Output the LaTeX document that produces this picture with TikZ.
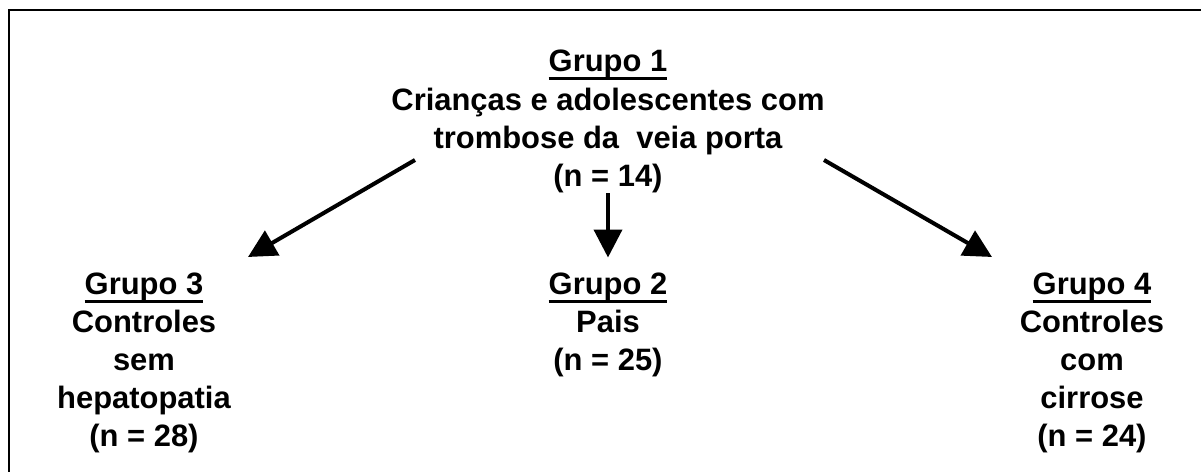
\documentclass[tikz,border=0pt]{standalone}
\usepackage{fontspec}
\setmainfont{Liberation Sans}
\usetikzlibrary{arrows.meta}
\newcommand\grpul[1]{\setbox0\hbox{#1}\rlap{\rule[-4.6pt]{\wd0}{1.7pt}}\box0}
\begin{document}
\begin{tikzpicture}[x=0.02cm,y=-0.02cm,
    grp/.style={anchor=north,inner sep=0pt,align=center,
      font=\fontsize{17.6}{21.7}\selectfont\bfseries},
    flow/.style={line width=2.3pt,-{Triangle[length=0.56cm,width=0.56cm]}}]
  \useasboundingbox (0,0) rectangle (1201,472);
  \draw[line width=1.2pt] (9,520) -- (9,10) -- (1250,10);

  \node[grp] (g1) at (608,50){\grpul{Grupo 1}\\Crianças e adolescentes com\\trombose da~ veia porta\\(n = 14)};
  \node[grp] (g3) at (144,272.5){\grpul{Grupo 3}\\Controles\\sem\\hepatopatia\\(n = 28)};
  \node[grp] (g2) at (608,272.5){\grpul{Grupo 2}\\Pais\\(n = 25)};
  \node[grp] (g4) at (1092,272.5){\grpul{Grupo 4}\\Controles\\com\\cirrose\\(n = 24)};

  \coordinate (l1) at (415,160);
  \coordinate (l3) at (248,257);
  \coordinate (r1) at (824,160);
  \coordinate (r4) at (992,257);
  \draw[flow] (l1) to (l3);
  \draw[flow,shorten >=0.3cm] (g1.south) to (g2.north);
  \draw[flow] (r1) to (r4);
\end{tikzpicture}
\end{document}
